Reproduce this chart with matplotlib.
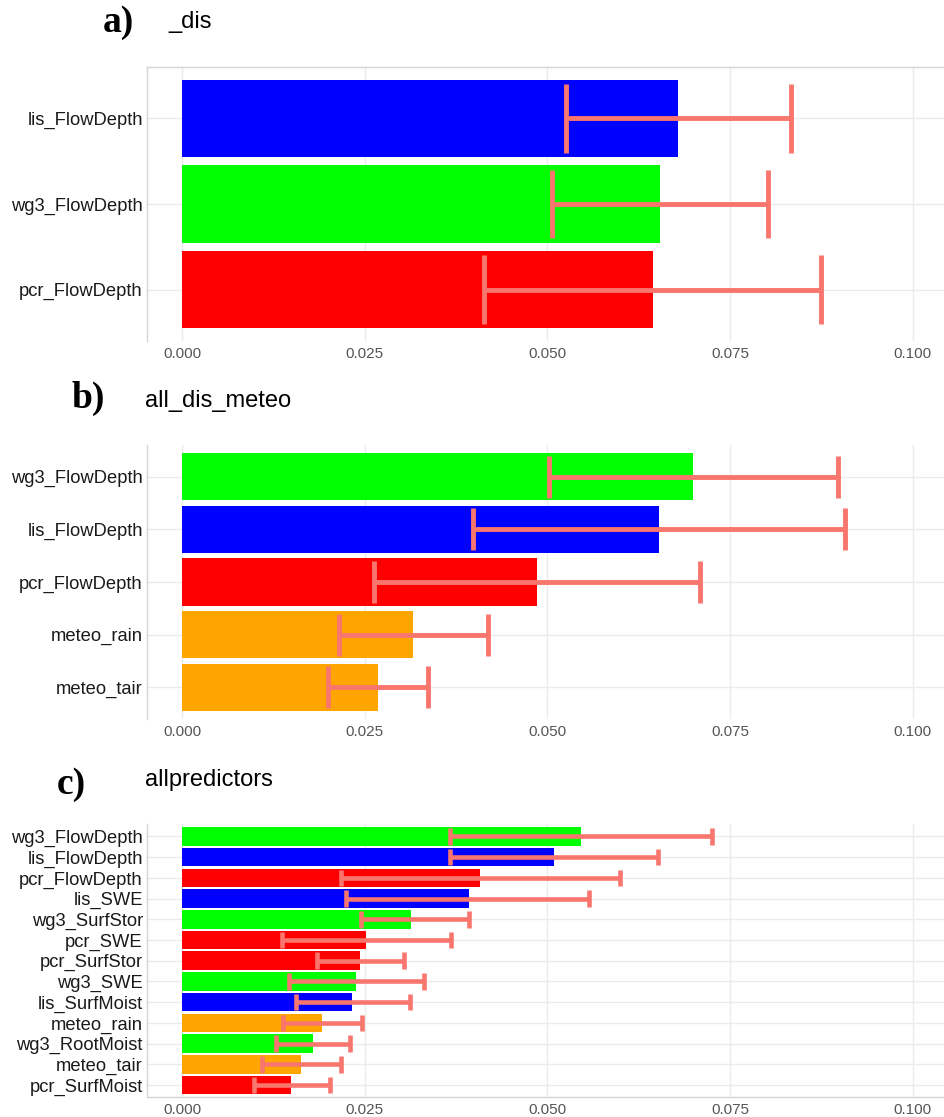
import matplotlib
matplotlib.use('Agg')
import matplotlib.pyplot as plt

plt.rcParams['font.family'] = ['Liberation Sans', 'DejaVu Sans']

BLUE = '#0000FF'
GREEN = '#00FF00'
RED = '#FF0000'
ORANGE = '#FFA500'
ERR_COLOR = '#F8766D'
GRID_COLOR = '#EBEBEB'

# panel a) _dis
a_labels = ['lis_FlowDepth', 'wg3_FlowDepth', 'pcr_FlowDepth']
a_values = [0.0679, 0.0654, 0.0644]
a_lower = [0.0525, 0.0506, 0.0413]
a_upper = [0.0833, 0.0802, 0.0874]
a_colors = [BLUE, GREEN, RED]

# panel b) all_dis_meteo
b_labels = ['wg3_FlowDepth', 'lis_FlowDepth', 'pcr_FlowDepth', 'meteo_rain', 'meteo_tair']
b_values = [0.0699, 0.0653, 0.0486, 0.0316, 0.0268]
b_lower = [0.0502, 0.0398, 0.0263, 0.0215, 0.0200]
b_upper = [0.0897, 0.0907, 0.0709, 0.0419, 0.0337]
b_colors = [GREEN, BLUE, RED, ORANGE, ORANGE]

# panel c) allpredictors
c_labels = ['wg3_FlowDepth', 'lis_FlowDepth', 'pcr_FlowDepth', 'lis_SWE', 'wg3_SurfStor',
            'pcr_SWE', 'pcr_SurfStor', 'wg3_SWE', 'lis_SurfMoist', 'meteo_rain',
            'wg3_RootMoist', 'meteo_tair', 'pcr_SurfMoist']
c_values = [0.0546, 0.0509, 0.0408, 0.0393, 0.0313, 0.0252, 0.0244, 0.0238, 0.0233,
            0.0192, 0.0179, 0.0163, 0.0149]
c_lower = [0.0367, 0.0367, 0.0218, 0.0224, 0.0245, 0.0137, 0.0185, 0.0146, 0.0156,
           0.0138, 0.0129, 0.0109, 0.0098]
c_upper = [0.0725, 0.0651, 0.0599, 0.0557, 0.0393, 0.0368, 0.0304, 0.0331, 0.0312,
           0.0246, 0.0230, 0.0218, 0.0202]
c_colors = [GREEN, BLUE, RED, BLUE, GREEN, RED, RED, GREEN, BLUE, ORANGE, GREEN, ORANGE, RED]

x_ticks = [0.0, 0.025, 0.05, 0.075, 0.1]
x_ticklabels = ['0.000', '0.025', '0.050', '0.075', '0.100']

PANELS = (
    {'rect': [0.1556, 0.6947, 0.8444, 0.2453], 'spines': ('left', 'top'), 'lw': 3.5},
    {'rect': [0.1556, 0.3563, 0.8444, 0.2453], 'spines': ('left',), 'lw': 3.5},
    {'rect': [0.1556, 0.0175, 0.8444, 0.2448], 'spines': ('left', 'bottom'), 'lw': 3.3},
)


def draw_panel(ax, labels, values, lower, upper, colors, spines, lw):
    pos = list(range(len(labels)))
    ax.barh(pos, values, height=0.9, color=colors, zorder=2)
    ax.hlines(pos, lower, upper, color=ERR_COLOR, linewidth=lw, zorder=3)
    ax.vlines(lower, [p - 0.4 for p in pos], [p + 0.4 for p in pos],
              color=ERR_COLOR, linewidth=lw, zorder=3)
    ax.vlines(upper, [p - 0.4 for p in pos], [p + 0.4 for p in pos],
              color=ERR_COLOR, linewidth=lw, zorder=3)
    ax.set_xlim(-0.0048, 0.1044)
    ax.set_ylim(len(labels) - 0.4, -0.6)
    ax.set_yticks(pos)
    ax.set_yticklabels(labels, fontsize=13.2, color='#1a1a1a')
    ax.set_xticks(x_ticks)
    ax.set_xticklabels(x_ticklabels, fontsize=11, color='#555555')
    ax.tick_params(length=0, pad=4)
    ax.tick_params(axis='y', pad=3)
    ax.grid(True, color=GRID_COLOR, linewidth=1.0, zorder=0)
    ax.set_axisbelow(True)
    for name, sp in ax.spines.items():
        if name in spines:
            sp.set_color('#D4D4D4')
            sp.set_linewidth(1.0)
        else:
            sp.set_visible(False)


fig = plt.figure(figsize=(9.45, 11.17), dpi=100)

data = (
    (a_labels, a_values, a_lower, a_upper, a_colors),
    (b_labels, b_values, b_lower, b_upper, b_colors),
    (c_labels, c_values, c_lower, c_upper, c_colors),
)
for params, (labels, values, lower, upper, colors) in zip(PANELS, data):
    ax = fig.add_axes(params['rect'])
    draw_panel(ax, labels, values, lower, upper, colors, params['spines'], params['lw'])

# panel letters and titles
letter_font = {'family': ['Liberation Serif', 'DejaVu Serif'], 'weight': 'bold', 'size': 27}
fig.text(103 / 945, 1 - 23 / 1117, 'a)', va='center', ha='left', **letter_font)
fig.text(168 / 945, 1 - 22 / 1117, '_dis', va='center', ha='left', fontsize=17)
fig.text(72 / 945, 1 - 398 / 1117, 'b)', va='center', ha='left', **letter_font)
fig.text(145 / 945, 1 - 401 / 1117, 'all_dis_meteo', va='center', ha='left', fontsize=17)
fig.text(57 / 945, 1 - 784 / 1117, 'c)', va='center', ha='left', **letter_font)
fig.text(145 / 945, 1 - 780 / 1117, 'allpredictors', va='center', ha='left', fontsize=17)

fig.savefig('out.png', dpi=100)
